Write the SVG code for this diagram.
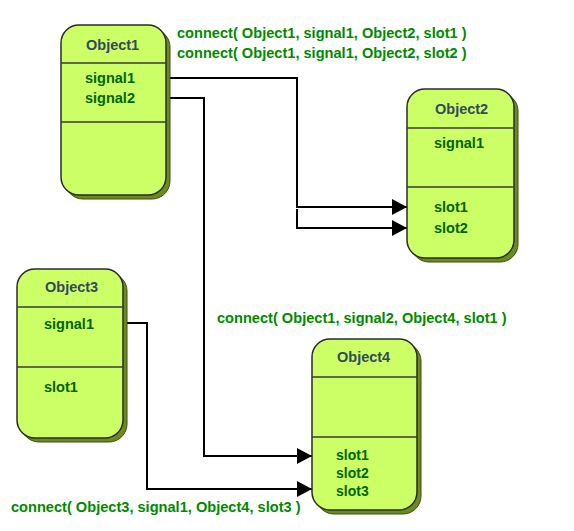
<svg xmlns="http://www.w3.org/2000/svg" width="574" height="531" viewBox="0 0 574 531">
<style>
.shadow{fill:#6b8a23;stroke:#3d5010;stroke-width:1}
.box{fill:#ccff66;stroke:#2b2b2b;stroke-width:1.5}
.div{stroke:#3a3a3a;stroke-width:1.5}
.title{font-family:"Liberation Sans",Arial,sans-serif;font-weight:bold;font-size:14.5px;fill:#34495e}
.item{font-family:"Liberation Sans",Arial,sans-serif;font-weight:bold;font-size:14.5px;fill:#006400}
.item4{font-family:"Liberation Sans",Arial,sans-serif;font-weight:bold;font-size:14px;fill:#006400}
.label{font-family:"Liberation Sans",Arial,sans-serif;font-weight:bold;font-size:14.6px;fill:#008a00}
.conn{fill:none;stroke:#000;stroke-width:2}
</style>
<defs>
<marker id="arrow" markerUnits="userSpaceOnUse" markerWidth="16" markerHeight="18" refX="15" refY="8" orient="auto">
<path d="M0,0 L15,8 L0,16 Z" fill="#000"/>
</marker>
</defs>
<rect width="574" height="531" fill="#fff"/>
<g id="connectors">
<path class="conn" d="M166 78 H297 V207 H407" marker-end="url(#arrow)"/>
<path class="conn" d="M297 209 V228 H407" marker-end="url(#arrow)"/>
<path class="conn" d="M166 98 H204 V456 H312" marker-end="url(#arrow)"/>
<path class="conn" d="M123 323 H147 V489 H312" marker-end="url(#arrow)"/>
</g>
<g id="Object1">
<rect class="shadow" x="65" y="29" width="105" height="170" rx="18"/>
<rect class="box" x="61" y="25" width="105" height="170" rx="18"/>
<line class="div" x1="61" y1="63" x2="166" y2="63"/>
<line class="div" x1="61" y1="122" x2="166" y2="122"/>
<text class="title" x="86" y="50">Object1</text>
<text class="item" x="85" y="83">signal1</text>
<text class="item" x="85" y="103">signal2</text>
</g>
<g id="Object2">
<rect class="shadow" x="411" y="93" width="107" height="169" rx="18"/>
<rect class="box" x="407" y="89" width="107" height="169" rx="18"/>
<line class="div" x1="407" y1="128" x2="514" y2="128"/>
<line class="div" x1="407" y1="187" x2="514" y2="187"/>
<text class="title" x="435" y="114">Object2</text>
<text class="item" x="434" y="148">signal1</text>
<text class="item" x="434" y="212">slot1</text>
<text class="item" x="434" y="233">slot2</text>
</g>
<g id="Object3">
<rect class="shadow" x="21" y="273" width="106" height="169" rx="18"/>
<rect class="box" x="17" y="269" width="106" height="169" rx="18"/>
<line class="div" x1="17" y1="307" x2="123" y2="307"/>
<line class="div" x1="17" y1="367" x2="123" y2="367"/>
<text class="title" x="45" y="292">Object3</text>
<text class="item" x="44" y="329">signal1</text>
<text class="item" x="44" y="392">slot1</text>
</g>
<g id="Object4">
<rect class="shadow" x="316" y="343" width="105" height="171" rx="18"/>
<rect class="box" x="312" y="339" width="105" height="171" rx="18"/>
<line class="div" x1="312" y1="377" x2="417" y2="377"/>
<line class="div" x1="312" y1="437" x2="417" y2="437"/>
<text class="title" x="337" y="362">Object4</text>
<text class="item4" x="336" y="460">slot1</text>
<text class="item4" x="336" y="478">slot2</text>
<text class="item4" x="336" y="496">slot3</text>
</g>
<g id="labels">
<text class="label" x="177" y="38">connect( Object1, signal1, Object2, slot1 )</text>
<text class="label" x="177" y="58">connect( Object1, signal1, Object2, slot2 )</text>
<text class="label" x="217" y="323">connect( Object1, signal2, Object4, slot1 )</text>
<text class="label" x="11" y="512">connect( Object3, signal1, Object4, slot3 )</text>
</g>
</svg>
